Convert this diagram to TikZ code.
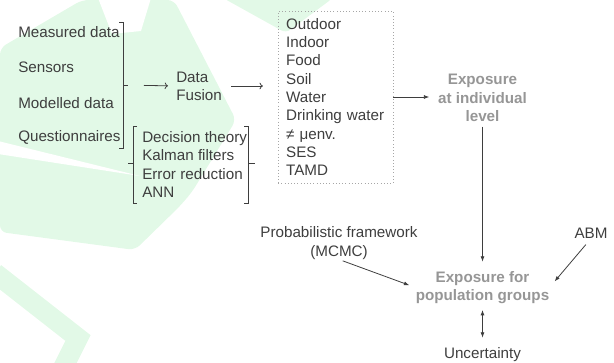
\documentclass[tikz,border=0pt]{standalone}
\usepackage{fontspec}
\setmainfont{Liberation Sans}
\usetikzlibrary{arrows.meta,backgrounds,calc}
\definecolor{leafgreen}{RGB}{226,249,231}
\definecolor{inkgray}{RGB}{62,62,62}
\definecolor{softgray}{RGB}{150,150,150}
\newcommand{\leafcolor}{leafgreen}
\newcommand{\linkwidth}{0.6pt}
\newcommand{\bodyfont}{\fontsize{11.4}{13.7}\selectfont}
\tikzset{
  txt/.style={inner sep=0pt, text=inkgray, font=\bodyfont},
  hot/.style={inner sep=0pt, text=softgray, font=\bodyfont\bfseries, align=center},
  link/.style={draw=inkgray, line width=\linkwidth, -{Latex[length=4pt,width=3pt]}},
  twolink/.style={draw=inkgray, line width=\linkwidth, {Latex[length=4pt,width=3pt]}-{Latex[length=4pt,width=3pt]}},
  thinlink/.style={draw=inkgray, line width=\linkwidth, -{To[length=2.5pt,width=5pt]}},
  brace/.style={draw=inkgray, line width=\linkwidth},
}
\begin{document}
\begin{tikzpicture}[x=0.75pt,y=-0.75pt]
\useasboundingbox (0,0) rectangle (614,363);
%sources
\node[txt, anchor=base west] (measured) at (18,38) {Measured data};
\node[txt, anchor=base west] (sensors) at (18,73) {Sensors};
\node[txt, anchor=base west] (modelled) at (18,109) {Modelled data};
\node[txt, anchor=base west] (quest) at (18,142) {Questionnaires};
\coordinate (brA) at (123,85);
\draw[brace] (119,22) -- (123,22) -- (123,148) -- (119,148);
\draw[brace] (brA) -- ++(5,0);
%fusion
\node[txt, anchor=west, align=left] (fusion) at (176,86) {Data\\Fusion};
\draw[thinlink, shorten <=15.75pt, shorten >=6pt] (brA) -- (fusion.west);
%methods
\node[txt, anchor=west, align=left] (methods) at (142,164.5) {Decision theory\\Kalman filters\\Error reduction\\ANN};
\draw[brace] (137,126) -- (133,126) -- (133,203) -- (137,203);
\draw[brace] (133,163) -- (128,163);
\draw[brace] (244,126) -- (248,126) -- (248,203) -- (244,203);
\draw[brace] (248,163) -- (255,163);
%media
\node[txt, draw=gray!70, dotted, inner xsep=6pt, text width=74pt, minimum height=129pt, align=left] (media) at (335.5,97)
  {Outdoor\\Indoor\\Food\\Soil\\Water\\Drinking water\\≠ μenv.\\SES\\TAMD};
\draw[thinlink, shorten <=7pt, shorten >=11.25pt] (fusion.east) -- (fusion.east -| media.west);
%exposure
\node[hot] (indiv) at (482.5,98) {Exposure\\at individual\\level};
\node[hot] (popul) at (482.5,287.5) {Exposure for\\population groups};
\node[txt] (uncert) at (482.5,355) {Uncertainty};
\node[txt, align=center] (prob) at (339,243) {Probabilistic framework\\(MCMC)};
\node[txt] (abm) at (591,233) {ABM};
\draw[link, shorten >=6.5pt] (media.east) -- (media.east -| indiv.west);
\draw[link, shorten <=3.5pt, shorten >=7pt] (indiv.south) -- (popul.north);
\draw[twolink, shorten <=4.5pt, shorten >=7.5pt] (popul.south) -- (uncert.north);
\draw[link, shorten <=3pt, shorten >=5pt] (prob.south) -- (popul.west);
\draw[link, shorten <=6pt, shorten >=6pt] (abm.south) -- (popul.east);
%watermark
\begin{scope}[on background layer]
\clip (0,0) rectangle (614,363);
\fill[\leafcolor, rounded corners=5pt] (82,0) -- (174,0) -- (236,120) -- (192,192) -- (180,206) -- (135,250) -- (0,232) -- (0,48) -- cycle;
\fill[white] (98,-2) -- (151,-2) -- (141,31) -- (112,34) -- cycle;
\fill[white] (-2,141) -- (140,176) -- (-2,154) -- cycle;
\fill[\leafcolor, rounded corners=4pt] (223,-2) -- (333,-2) -- (286,33) -- cycle;
\draw[\leafcolor, line width=15pt] (-5,273) -- (78,338) -- (62,370);
\end{scope}
\end{tikzpicture}
\end{document}
